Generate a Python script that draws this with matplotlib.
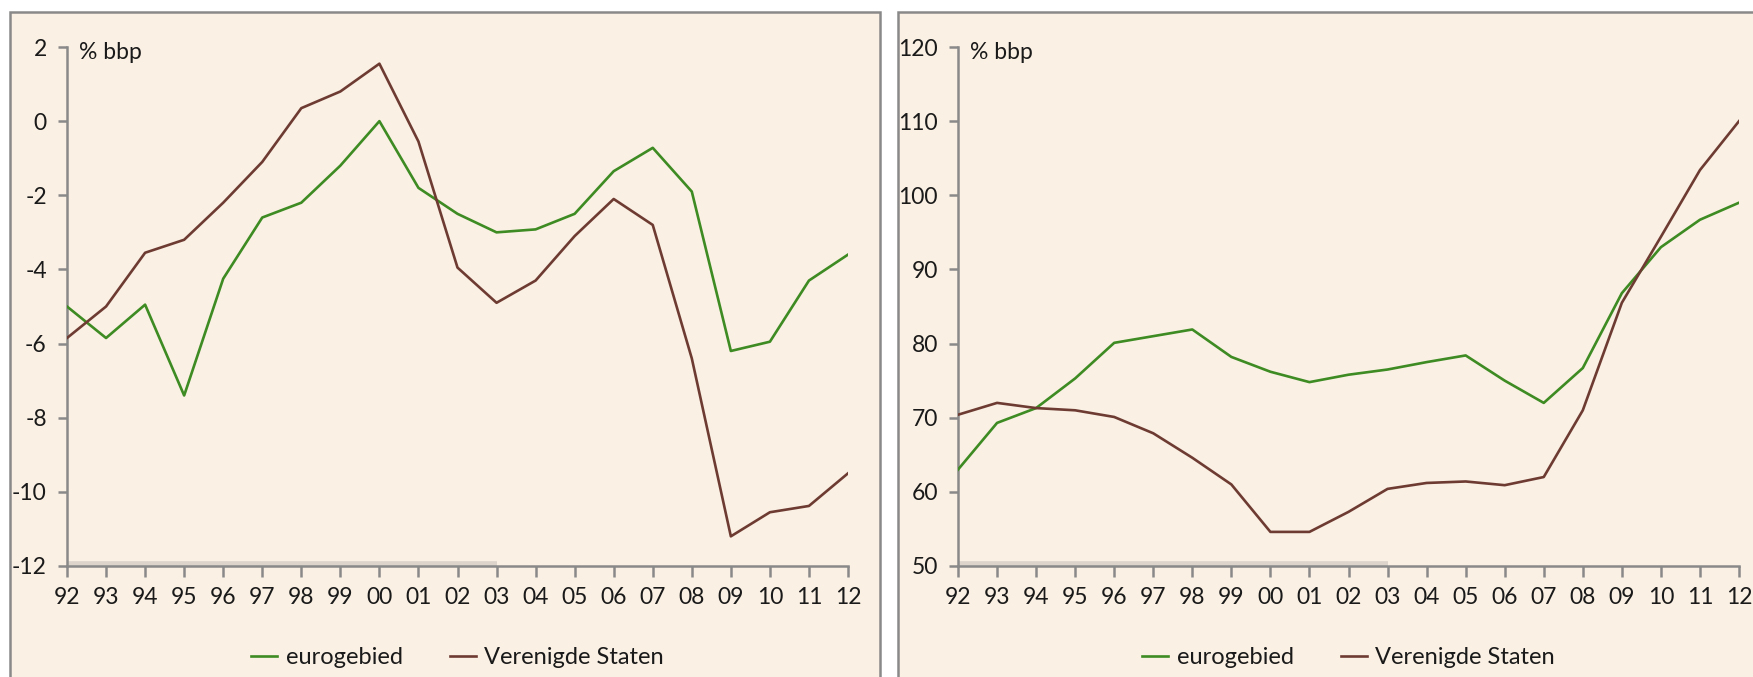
import matplotlib
matplotlib.use('Agg')
import matplotlib.pyplot as plt
from matplotlib.patches import Rectangle

# Years on the x-axis (two-digit labels)
YEARS = ['92', '93', '94', '95', '96', '97', '98', '99', '00', '01', '02',
         '03', '04', '05', '06', '07', '08', '09', '10', '11', '12']

# Left panel: budget balance, % bbp
EURO_BALANCE = [-5.0, -5.85, -4.95, -7.4, -4.25, -2.6, -2.2, -1.2, 0.0, -1.8,
                -2.5, -3.0, -2.92, -2.5, -1.35, -0.72, -1.9, -6.2, -5.95,
                -4.3, -3.6]
US_BALANCE = [-5.85, -5.0, -3.55, -3.2, -2.2, -1.1, 0.35, 0.8, 1.55, -0.55,
              -3.95, -4.9, -4.3, -3.1, -2.1, -2.8, -6.4, -11.2, -10.55,
              -10.38, -9.5]

# Right panel: government debt, % bbp
EURO_DEBT = [63.0, 69.3, 71.3, 75.3, 80.1, 81.0, 81.9, 78.2, 76.2, 74.8, 75.8,
             76.5, 77.5, 78.4, 75.0, 72.0, 76.7, 86.8, 93.0, 96.7, 99.0]
US_DEBT = [70.4, 72.0, 71.3, 71.0, 70.1, 67.9, 64.6, 61.0, 54.6, 54.6, 57.3,
           60.4, 61.2, 61.4, 60.9, 62.0, 71.0, 85.5, 94.4, 103.4, 110.0]

LEFT_TICKS = [2, 0, -2, -4, -6, -8, -10, -12]
RIGHT_TICKS = [120, 110, 100, 90, 80, 70, 60, 50]
UNIT = '% bbp'
LABELS = ['eurogebied', 'Verenigde Staten']
BAND_END = '03'

BG = '#FAF0E3'
GRID_GREY = '#898989'
GREEN = '#3d8b22'
BROWN = '#6e3b32'
TEXT = '#1a1a1a'

plt.rcParams['font.family'] = ['Lato', 'DejaVu Sans']

W, H = 1753, 677
fig = plt.figure(figsize=(W / 100, H / 100), dpi=100, facecolor='white')

# panel frames (cream boxes with grey border running off the bottom)
for x0, x1 in [(10, 880), (898, 1800)]:
    fig.patches.append(Rectangle((x0 / W, -0.1), (x1 - x0) / W, 1.1 - 12 / H,
                                 transform=fig.transFigure, facecolor=BG,
                                 edgecolor=GRID_GREY, linewidth=1.8,
                                 zorder=-10))

x = list(range(len(YEARS)))


def draw_panel(ax, euro, us, ticks):
    ax.set_facecolor('none')
    ax.plot(x, euro, color=GREEN, lw=1.9, label=LABELS[0], zorder=3)
    ax.plot(x, us, color=BROWN, lw=1.9, label=LABELS[1], zorder=3)
    lo, hi = min(ticks), max(ticks)
    ax.set_ylim(lo, hi)
    ax.set_xlim(0, len(YEARS) - 1)

    # faint band along the bottom axis
    n_band = YEARS.index(BAND_END) + 1
    ax.plot(x[:n_band], [lo] * n_band, color='#DDD5CC', lw=7,
            solid_capstyle='butt', zorder=2)

    ax.set_xticks(x)
    ax.set_xticklabels(YEARS)
    ax.set_yticks(ticks)
    ax.set_yticklabels([str(t) for t in ticks])
    for side in ['top', 'right']:
        ax.spines[side].set_visible(False)
    for side in ['left', 'bottom']:
        ax.spines[side].set_color(GRID_GREY)
        ax.spines[side].set_linewidth(1.8)
    ax.tick_params(axis='x', direction='out', length=8, width=1.8,
                   color=GRID_GREY, labelsize=16.5, labelcolor=TEXT, pad=7)
    ax.tick_params(axis='y', direction='out', length=6.5, width=1.8,
                   color=GRID_GREY, labelsize=16.5, labelcolor=TEXT, pad=8)
    ax.text(0.016, 0.99, UNIT, transform=ax.transAxes, ha='left', va='center',
            fontsize=16.5, color=TEXT)
    leg = ax.legend(loc='center', bbox_to_anchor=(0.5, -0.177), ncol=2,
                    frameon=False, fontsize=17, handlelength=1.1,
                    handletextpad=0.35, columnspacing=2.0)
    for t in leg.get_texts():
        t.set_color(TEXT)


ax_l = fig.add_axes([67 / W, 1 - 566 / H, 781 / W, 519 / H])
ax_r = fig.add_axes([958 / W, 1 - 566 / H, 781 / W, 519 / H])
draw_panel(ax_l, EURO_BALANCE, US_BALANCE, LEFT_TICKS)
draw_panel(ax_r, EURO_DEBT, US_DEBT, RIGHT_TICKS)

fig.savefig('out.png', dpi=100, facecolor='white')
